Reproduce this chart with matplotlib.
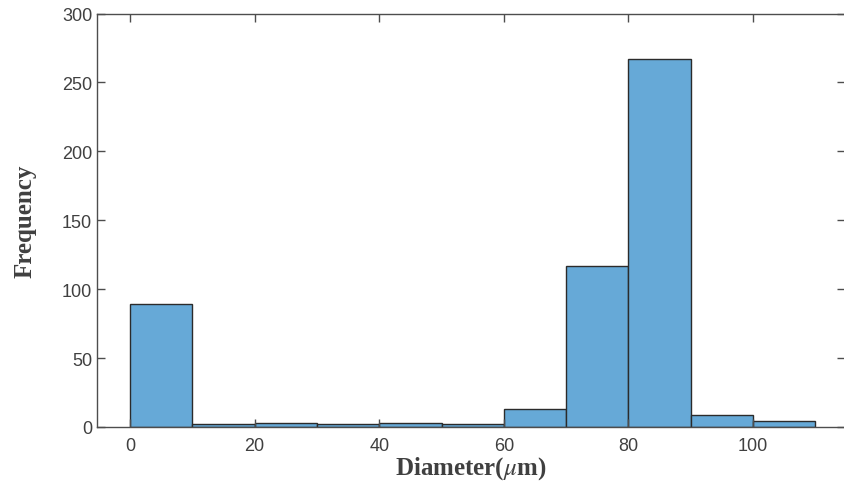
import numpy as np
import matplotlib.pyplot as plt

# Histogram counts (bin width 10 um)
bin_edges = [0, 10, 20, 30, 40, 50, 60, 70, 80, 90, 100, 110]
counts = [89, 2, 3, 2, 3, 2, 13, 117, 267, 9, 4]
x_ticks = [0, 20, 40, 60, 80, 100]
y_ticks = [0, 50, 100, 150, 200, 250, 300]

axis_color = "#4d4d4d"
plt.rcParams["mathtext.fontset"] = "stix"

fig = plt.figure(figsize = (8.44, 4.85), dpi = 100)
ax = fig.add_axes([97 / 844, 1 - 428 / 485, 748 / 844, (428 - 14.5) / 485])

lefts = np.array(bin_edges[:-1])
widths = np.diff(bin_edges)
ax.bar(lefts, counts, width = widths, align = "edge", color = "#66a9d7",
       edgecolor = "#2b2b2b", linewidth = 1.0)

ax.set_xlim(-5.3, 114.75)
ax.set_ylim(0, 300)
ax.set_xticks(x_ticks)
ax.set_yticks(y_ticks)

for s in ax.spines.values():
    s.set_color(axis_color)
    s.set_linewidth(1.0)
ax.tick_params(direction = "in", length = 6, width = 1.0, color = axis_color,
               top = True, right = True, labelcolor = "#404040", labelsize = 13)
for lab in ax.get_xticklabels() + ax.get_yticklabels():
    lab.set_family("Liberation Sans")
ax.tick_params(axis = "x", pad = 7)

ax.set_xlabel(r"Diameter($\mu$m)", family = "Liberation Serif", fontweight = "bold",
              fontsize = 18, color = "#404040", labelpad = 0)
ax.set_ylabel("Frequency", family = "Liberation Serif", fontweight = "bold",
              fontsize = 18, color = "#404040", labelpad = 18)

fig.savefig("out.png", dpi = 100)
